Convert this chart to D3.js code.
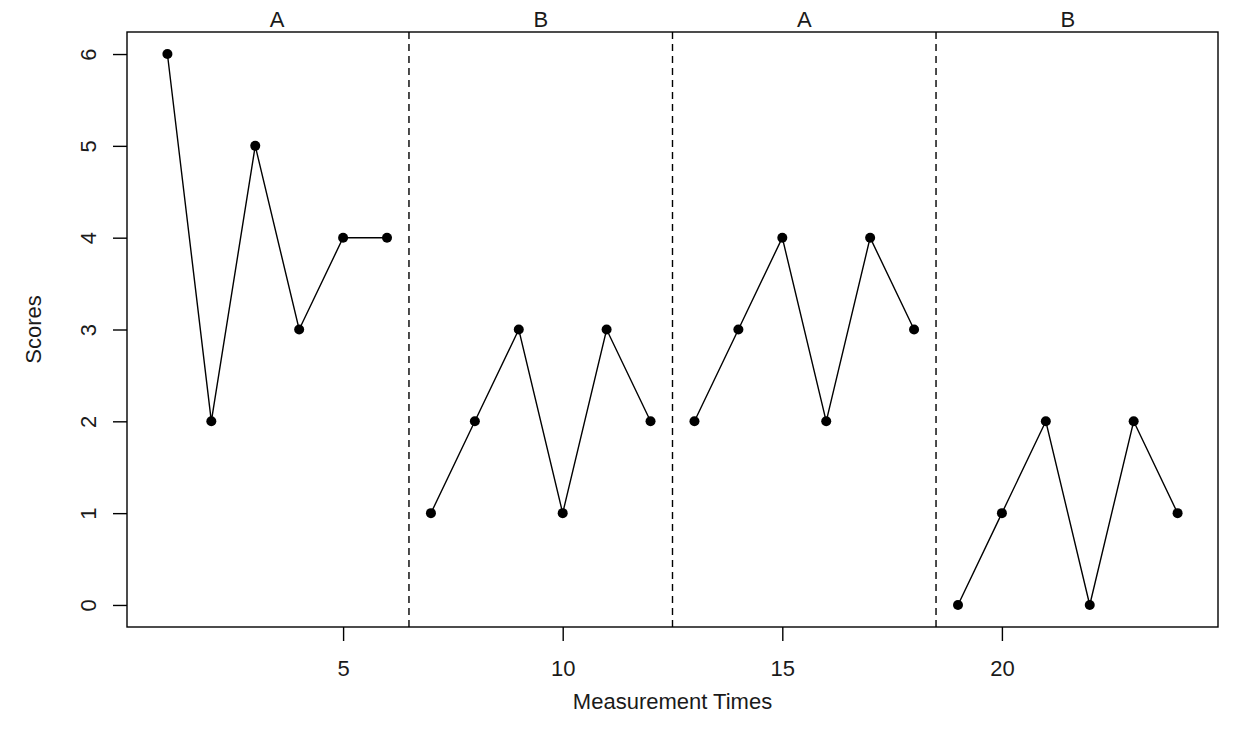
<!DOCTYPE html>
<html>
<head>
<meta charset="utf-8">
<script src="https://cdn.jsdelivr.net/npm/d3@7"></script>
<style>
  html, body { margin: 0; padding: 0; background: #fff; }
  svg { display: block; font-family: "Liberation Sans", Arial, sans-serif; }
</style>
</head>
<body>
<svg id="chart" width="1233" height="737"></svg>
<script>
// ---- data ----
const times = [1,2,3,4,5,6,7,8,9,10,11,12,13,14,15,16,17,18,19,20,21,22,23,24];
const scores = [6,2,5,3,4,4, 1,2,3,1,3,2, 2,3,4,2,4,3, 0,1,2,0,2,1];
const phaseLabels = ["A","B","A","B"];
const phaseStarts = [1,7,13,19];
const phaseEnds = [6,12,18,24];
const phaseBreaks = [6.5,12.5,18.5];
const xTicks = [5,10,15,20];
const yTicks = [0,1,2,3,4,5,6];
const xTitle = "Measurement Times";
const yTitle = "Scores";

// ---- layout ----
const pL = 127, pR = 1218, pT = 32, pB = 627;
const svg = d3.select("#chart");

const xExt = d3.extent(times), yExt = [0, 6];
const xPad = (xExt[1]-xExt[0])*0.04, yPad = (yExt[1]-yExt[0])*0.04;
const x = d3.scaleLinear().domain([xExt[0]-xPad, xExt[1]+xPad]).range([pL, pR]);
const y = d3.scaleLinear().domain([yExt[0]-yPad, yExt[1]+yPad]).range([pB, pT]);

const fs = 22;
const txtCol = "#1a1a1a";
const lw = 1.4;

// axes
const xAxis = svg.append("g").attr("transform", `translate(0,${pB})`)
  .call(d3.axisBottom(x).tickValues(xTicks).tickSize(14).tickPadding(0).tickFormat(d3.format("d")));
xAxis.select(".domain").remove();
xAxis.selectAll("line").attr("stroke", "#000").attr("stroke-width", lw);
xAxis.selectAll("text").attr("y", 41).attr("dy", "0.35em")
  .attr("font-size", fs).attr("fill", txtCol).attr("font-family", "Liberation Sans, Arial, sans-serif");

const yAxis = svg.append("g").attr("transform", `translate(${pL},0)`)
  .call(d3.axisLeft(y).tickValues(yTicks).tickSize(14).tickFormat(d3.format("d")));
yAxis.select(".domain").remove();
yAxis.selectAll("line").attr("stroke", "#000").attr("stroke-width", lw);
yAxis.selectAll("text").remove();
yAxis.selectAll(".tick").append("text")
  .attr("transform", "translate(-39,0) rotate(-90)")
  .attr("text-anchor", "middle")
  .attr("dy", "0.35em")
  .attr("font-size", fs).attr("fill", txtCol)
  .attr("font-family", "Liberation Sans, Arial, sans-serif")
  .text(d => d);

// box
svg.append("rect").attr("x", pL).attr("y", pT)
  .attr("width", pR-pL).attr("height", pB-pT)
  .attr("fill", "none").attr("stroke", "#000").attr("stroke-width", lw);

// phase break lines
svg.selectAll(".brk").data(phaseBreaks).enter().append("line")
  .attr("x1", d => x(d)).attr("x2", d => x(d))
  .attr("y1", pT).attr("y2", pB)
  .attr("stroke", "#000").attr("stroke-width", lw)
  .attr("stroke-dasharray", "7,5");

// phase labels
svg.selectAll(".plab").data(phaseLabels).enter().append("text")
  .attr("x", (d,i) => x((phaseStarts[i]+phaseEnds[i])/2))
  .attr("y", 19).attr("dy", "0.35em")
  .attr("text-anchor", "middle")
  .attr("font-size", fs).attr("fill", txtCol)
  .text(d => d);

// lines per phase
const pts = times.map((t,i) => ({t, s: scores[i]}));
const line = d3.line().x(d => x(d.t)).y(d => y(d.s));
phaseStarts.forEach((s, i) => {
  const seg = pts.filter(d => d.t >= s && d.t <= phaseEnds[i]);
  svg.append("path").datum(seg).attr("d", line)
    .attr("fill", "none").attr("stroke", "#000").attr("stroke-width", lw);
});

// points
svg.selectAll(".pt").data(pts).enter().append("circle")
  .attr("cx", d => x(d.t)).attr("cy", d => y(d.s)).attr("r", 5)
  .attr("fill", "#000");

// titles
svg.append("text").attr("x", (pL+pR)/2).attr("y", 701).attr("dy", "0.35em")
  .attr("text-anchor", "middle").attr("font-size", fs).attr("fill", txtCol).text(xTitle);
svg.append("text").attr("transform", `translate(33,${(pT+pB)/2}) rotate(-90)`)
  .attr("dy", "0.35em")
  .attr("text-anchor", "middle").attr("font-size", fs).attr("fill", txtCol).text(yTitle);
</script>
</body>
</html>
